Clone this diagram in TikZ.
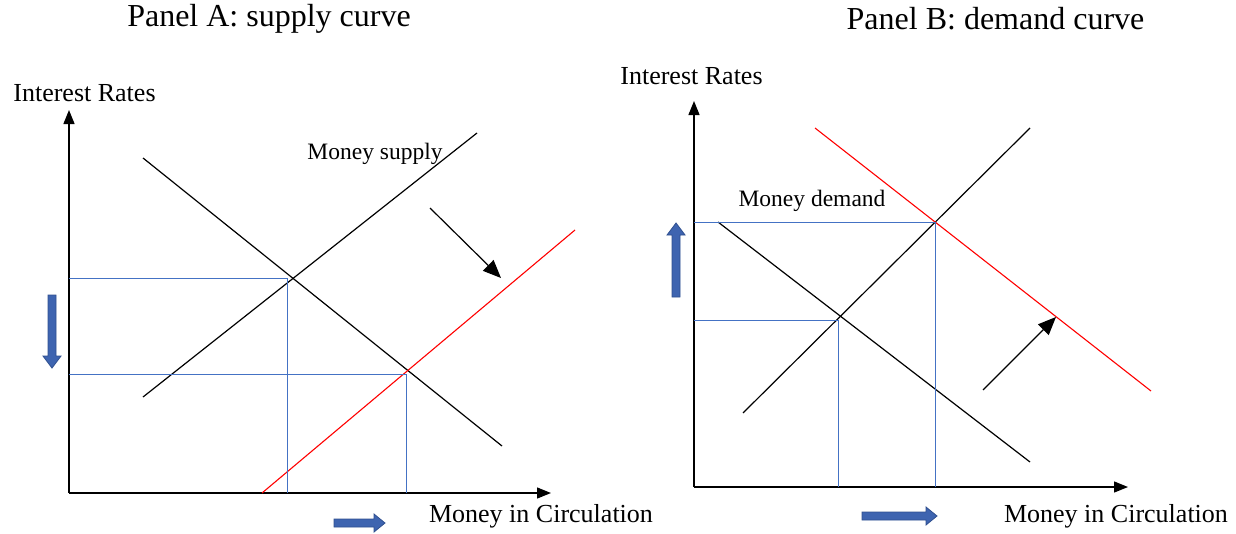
\documentclass[tikz,border=0pt]{standalone}
\usepackage{fontspec}
\setmainfont{Liberation Serif}
\usetikzlibrary{arrows.meta}
\definecolor{guide}{HTML}{4472C4}
\definecolor{blockfill}{HTML}{3E64B0}
\definecolor{blockdraw}{HTML}{2F4F8F}
\tikzset{
  axis/.style={line width=1.3pt,-{Triangle[length=14pt,width=11pt]}},
  curve/.style={line width=1.2pt,black},
  shifted/.style={line width=1.1pt,red},
  guideline/.style={line width=1pt,guide},
  shiftarrow/.style={line width=1.2pt,-{Triangle[length=18pt,width=15pt]}},
  block/.style={fill=blockfill,draw=blockdraw,line width=0.8pt,line join=miter},
  title/.style={font=\fontsize{32}{35}\selectfont,inner sep=0pt},
  axlabel/.style={font=\fontsize{26}{30}\selectfont,inner sep=0pt},
  curvelabel/.style={font=\fontsize{23.5}{27}\selectfont,inner sep=0pt}
}
\begin{document}
\begin{tikzpicture}[x=1pt,y=-1pt]
\useasboundingbox (0,0) rectangle (1236,533);
% ---------------- Panel A ----------------
\node[title] (tA) at (269,19) {Panel A: supply curve};
\node[axlabel] (yA) at (84.5,93) {Interest Rates};
\node[axlabel] (xA) at (541,516) {Money in Circulation};
\coordinate (oA) at (69,493);
\coordinate (yAt) at (69,110);
\coordinate (xAt) at (551,493);
\draw[axis] (oA) -- (yAt);
\draw[axis] (oA) -- (xAt);
% demand
\coordinate (dA1) at (143,158);
\coordinate (dA2) at (502,446);
\draw[curve] (dA1) -- (dA2);
% supply
\coordinate (sA1) at (143,397);
\coordinate (sA2) at (477,133);
\draw[curve] (sA1) -- (sA2);
\node[curvelabel] (msA) at (375,154) {Money supply};
% shifted supply
\coordinate (rA1) at (262,493);
\coordinate (rA2) at (575,230);
\draw[shifted] (rA1) -- (rA2);
% guides
\coordinate (gA1) at (287,278);
\coordinate (gA2) at (406,374);
\draw[guideline] (69,278) -- (gA1) -- (287,493);
\draw[guideline] (69,374) -- (gA2) -- (406,493);
% shift arrow
\coordinate (aA1) at (430,208);
\coordinate (aA2) at (501,278);
\draw[shiftarrow] (aA1) -- (aA2);
% block arrows
\draw[block] (48,295) -- (56,295) -- (56,356) -- (61,356) -- (52,368) -- (43,356) -- (48,356) -- cycle;
\draw[block] (334,519) -- (374,519) -- (374,514) -- (385,523) -- (374,532) -- (374,527) -- (334,527) -- cycle;
% ---------------- Panel B ----------------
\node[title] (tB) at (995.5,19) {Panel B: demand curve};
\node[axlabel] (yB) at (691.5,76) {Interest Rates};
\node[axlabel] (xB) at (1116,516) {Money in Circulation};
\coordinate (oB) at (694,487);
\coordinate (yBt) at (694,101);
\coordinate (xBt) at (1128,487);
\draw[axis] (oB) -- (yBt);
\draw[axis] (oB) -- (xBt);
% supply
\coordinate (sB1) at (743,413);
\coordinate (sB2) at (1030,128);
\draw[curve] (sB1) -- (sB2);
% demand
\coordinate (dB1) at (718,222);
\coordinate (dB2) at (1030,462);
\draw[curve] (dB1) -- (dB2);
\node[curvelabel] (mdB) at (812,201) {Money demand};
% shifted demand
\coordinate (rB1) at (815,128);
\coordinate (rB2) at (1151,391);
\draw[shifted] (rB1) -- (rB2);
% guides
\coordinate (gB1) at (935,222);
\coordinate (gB2) at (838,320);
\draw[guideline] (694,222) -- (gB1) -- (935,487);
\draw[guideline] (694,320) -- (gB2) -- (838,487);
% shift arrow
\coordinate (aB1) at (983,390);
\coordinate (aB2) at (1056,317);
\draw[shiftarrow] (aB1) -- (aB2);
% block arrows
\draw[block] (672,297) -- (680,297) -- (680,235) -- (685,235) -- (676,223) -- (667,235) -- (672,235) -- cycle;
\draw[block] (862,512) -- (926,512) -- (926,507) -- (937,516) -- (926,525) -- (926,520) -- (862,520) -- cycle;
\end{tikzpicture}
\end{document}
